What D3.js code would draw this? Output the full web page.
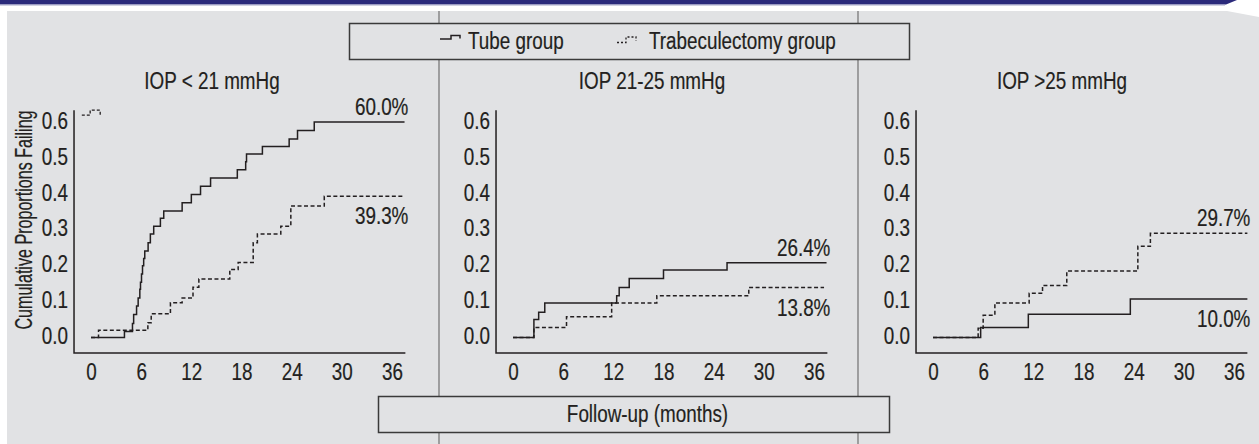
<!DOCTYPE html>
<html>
<head>
<meta charset="utf-8">
<script src="https://cdn.jsdelivr.net/npm/d3@7/dist/d3.min.js"></script>
<style>
  body { margin: 0; background: #ffffff; }
  svg text {
    font-family: "Liberation Sans", Arial, sans-serif;
    font-size: 23px;
    fill: #231f20;
    stroke: #231f20;
    stroke-width: 0.2px;
  }
</style>
</head>
<body>
<div id="chart-area"></div>
<script>
// chart values (month, cumulative proportion failing)
var panelTitles = ["IOP < 21 mmHg", "IOP 21-25 mmHg", "IOP >25 mmHg"];
var xTicks = [0, 6, 12, 18, 24, 30, 36];
var yTicks = [0, 0.1, 0.2, 0.3, 0.4, 0.5, 0.6];

var tubeLow = [[0,0],[4.0,0.017],[4.96,0.039],[5.1,0.064],[5.45,0.088],[5.64,0.110],[5.84,0.134],
  [5.92,0.154],[6.04,0.177],[6.16,0.200],[6.3,0.220],[6.43,0.241],[6.83,0.264],[7.1,0.288],
  [7.5,0.310],[8.3,0.332],[8.7,0.352],[10.9,0.375],[12.0,0.398],[13.1,0.421],[14.3,0.444],
  [17.5,0.467],[18.5,0.489],[18.6,0.511],[20.5,0.532],[23.7,0.553],[24.7,0.576],[26.7,0.600],[37.5,0.600]];
var trabLow = [[0,0],[0.9,0.02],[6.8,0.041],[7.2,0.066],[9.5,0.097],[10.9,0.110],[12.2,0.140],
  [12.9,0.163],[16.6,0.189],[17.6,0.209],[19.4,0.264],[19.9,0.288],[22.7,0.310],[23.9,0.366],
  [27.9,0.393],[37.5,0.393]];

var tubeMid = [[0,0],[2.5,0.05],[3.07,0.07],[3.8,0.096],[12.4,0.116],[12.7,0.139],[13.9,0.164],
  [18.0,0.188],[25.6,0.208],[37.5,0.208]];
var trabMid = [[0,0],[2.5,0.028],[6.4,0.058],[11.8,0.096],[17.2,0.116],[28.2,0.139],[37.2,0.139]];

var tubeHigh = [[0,0],[5.7,0.028],[11.4,0.065],[23.6,0.107],[37.6,0.107]];
var trabHigh = [[0,0],[5.4,0.026],[6.0,0.062],[7.4,0.096],[11.5,0.123],[13.1,0.145],[16.0,0.185],
  [24.5,0.254],[26.0,0.290],[37.6,0.290]];

var tubeFinal = ["60.0%", "26.4%", "10.0%"];
var trabFinal = ["39.3%", "13.8%", "29.7%"];

// the little dashed mark near the top of the first panel
var strayMark = [[-1.1,0.619],[-0.1,0.633],[1.1,0.619]];

var tubeSeries = [tubeLow, tubeMid, tubeHigh];
var trabSeries = [trabLow, trabMid, trabHigh];

var width = 1259, height = 444;
var ink = "#231f20";
var bg = "#e1e2e4";
var squeeze = 0.82;   // condensed look from a regular face

var svg = d3.select("#chart-area").append("svg")
  .attr("width", width)
  .attr("height", height);

// move x/y of a text into a transform so it can be squeezed sideways
function narrow(sel, rot, k) {
  sel.each(function() {
    var t = d3.select(this);
    var tx = +t.attr("x") || 0, ty = +t.attr("y") || 0;
    t.attr("x", null).attr("y", null)
     .attr("transform", "translate(" + tx + "," + ty + ")" + (rot ? " rotate(" + rot + ")" : "") + " scale(" + (k || squeeze) + ",1)");
  });
}

// grey card and blue header strip
svg.append("path")
  .attr("d", "M7,11 L1227,11 L1259,17 L1259,444 L7,444 Z")
  .attr("fill", bg);
svg.append("path")
  .attr("d", "M0,0 L1237,0 L1226,4.5 L0,4.5 Z")
  .attr("fill", "#2b2a7b");
svg.append("line")
  .attr("x1", 0).attr("x2", 1225).attr("y1", 5).attr("y2", 5)
  .attr("stroke", "#a3a3c8").attr("stroke-width", 1);

// panel dividers
[439, 858].forEach(function(xv) {
  svg.append("line")
    .attr("x1", xv).attr("x2", xv).attr("y1", 11).attr("y2", 444)
    .attr("stroke", "#8d8d8d").attr("stroke-width", 1.6);
});

var panelZero = [91, 513, 933];
var titleX = [212, 652, 1062];

var y = d3.scaleLinear().domain([0, 0.6]).range([337.5, 122]);

var line = function(x) {
  return d3.line()
    .x(d => x(d[0]))
    .y(d => y(d[1]))
    .curve(d3.curveStepAfter);
};

panelTitles.forEach(function(title, i) {
  var x = d3.scaleLinear().domain([0, 36]).range([panelZero[i], panelZero[i] + 301]);
  var g = svg.append("g").attr("class", "panel");

  g.append("text")
    .attr("x", titleX[i])
    .attr("y", 89)
    .style("text-anchor", "middle")
    .text(title)
    .call(narrow);

  // axis lines
  g.append("path")
    .attr("d", "M" + x(-2.03) + "," + y(0.633) + " V" + y(-0.043) + " H" + x(37.6))
    .attr("fill", "none")
    .attr("stroke", ink)
    .attr("stroke-width", 1.5);

  var yAxis = d3.axisLeft(y)
    .tickValues(yTicks)
    .tickSize(0)
    .tickPadding(6)
    .tickFormat(d3.format(".1f"));

  var ya = g.append("g")
    .attr("transform", "translate(" + x(-2.03) + ",0)")
    .call(yAxis);
  ya.select(".domain").remove();
  ya.attr("font-family", null).attr("font-size", null);
  ya.selectAll("text").attr("dy", "0.27em").attr("fill", ink).call(narrow);

  var xAxis = d3.axisBottom(x)
    .tickValues(xTicks)
    .tickSize(0)
    .tickPadding(11);

  var xa = g.append("g")
    .attr("transform", "translate(0," + y(-0.043) + ")")
    .call(xAxis);
  xa.select(".domain").remove();
  xa.attr("font-family", null).attr("font-size", null);
  xa.selectAll("text").attr("fill", ink).call(narrow);

  // survival curves
  g.append("path")
    .datum(trabSeries[i])
    .attr("d", line(x))
    .attr("fill", "none")
    .attr("stroke", ink)
    .attr("stroke-width", 1.5)
    .attr("stroke-dasharray", "4,2.5");

  g.append("path")
    .datum(tubeSeries[i])
    .attr("d", line(x))
    .attr("fill", "none")
    .attr("stroke", ink)
    .attr("stroke-width", 1.5);

  // end-of-curve percentages: upper curve label above, lower curve label below
  var tubeEnd = tubeSeries[i][tubeSeries[i].length - 1][1];
  var trabEnd = trabSeries[i][trabSeries[i].length - 1][1];
  var tubeTop = tubeEnd > trabEnd;

  g.append("text")
    .attr("x", x(37.6) + 3)
    .attr("y", tubeTop ? y(tubeEnd) - 7 : y(tubeEnd) + 28)
    .style("text-anchor", "end")
    .text(tubeFinal[i])
    .call(narrow);

  g.append("text")
    .attr("x", x(37.6) + 3)
    .attr("y", tubeTop ? y(trabEnd) + 28 : y(trabEnd) - 7)
    .style("text-anchor", "end")
    .text(trabFinal[i])
    .call(narrow);

  if (i == 0) {
    g.append("path")
      .datum(strayMark)
      .attr("d", line(x))
      .attr("fill", "none")
      .attr("stroke", ink)
      .attr("stroke-width", 1.3)
      .attr("stroke-dasharray", "3,2");
  }
});

// y axis title, a little more condensed than the rest
svg.append("text")
  .attr("x", 32).attr("y", 220)
  .style("text-anchor", "middle")
  .text("Cumulative Proportions Failing")
  .call(narrow, -90, 0.7);

// legend box
svg.append("rect")
  .attr("x", 349.5).attr("y", 23.5)
  .attr("width", 560).attr("height", 36)
  .attr("fill", bg).attr("stroke", "#3a3a3a").attr("stroke-width", 1.5);

svg.append("path")
  .attr("d", "M440,39 H451 V35.5 H460 V38.5")
  .attr("fill", "none").attr("stroke", ink).attr("stroke-width", 1.5);
svg.append("text").attr("x", 468).attr("y", 48.5).text("Tube group").call(narrow);

svg.append("path")
  .attr("d", "M617,42.5 H626 V37 H636 V41")
  .attr("fill", "none").attr("stroke", ink).attr("stroke-width", 1.3)
  .attr("stroke-dasharray", "2,2");
svg.append("text").attr("x", 649).attr("y", 48.5).text("Trabeculectomy group").call(narrow);

// x axis title box
svg.append("rect")
  .attr("x", 378.5).attr("y", 396.5)
  .attr("width", 511).attr("height", 36)
  .attr("fill", bg).attr("stroke", "#3a3a3a").attr("stroke-width", 1.5);

svg.append("text")
  .attr("x", 647.5).attr("y", 421.5)
  .style("text-anchor", "middle")
  .text("Follow-up (months)")
  .call(narrow);
</script>
</body>
</html>
